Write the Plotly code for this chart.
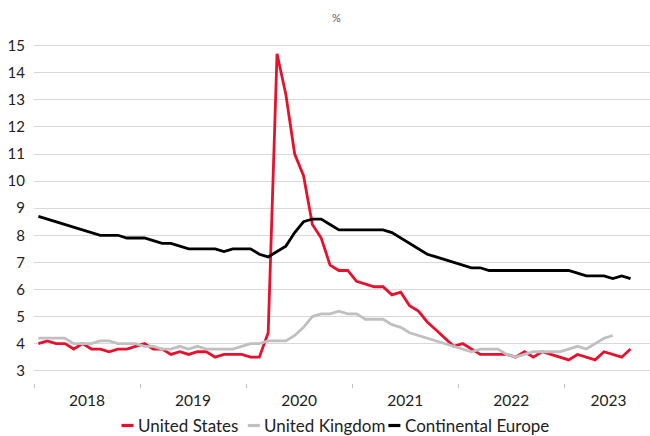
import plotly.graph_objects as go

# ---- data ----
years = ["2018", "2019", "2020", "2021", "2022", "2023"]
n_categories = 70  # monthly slots on the axis, Jan 2018 .. Oct 2023

united_states = [
    4.0, 4.1, 4.0, 4.0, 3.8, 4.0, 3.8, 3.8, 3.7, 3.8, 3.8, 3.9,
    4.0, 3.8, 3.8, 3.6, 3.7, 3.6, 3.7, 3.7, 3.5, 3.6, 3.6, 3.6,
    3.5, 3.5, 4.4, 14.7, 13.2, 11.0, 10.2, 8.4, 7.9, 6.9, 6.7, 6.7,
    6.3, 6.2, 6.1, 6.1, 5.8, 5.9, 5.4, 5.2, 4.8, 4.5, 4.2, 3.9,
    4.0, 3.8, 3.6, 3.6, 3.6, 3.6, 3.5, 3.7, 3.5, 3.7, 3.6, 3.5,
    3.4, 3.6, 3.5, 3.4, 3.7, 3.6, 3.5, 3.8,
]
united_kingdom = [
    4.2, 4.2, 4.2, 4.2, 4.0, 4.0, 4.0, 4.1, 4.1, 4.0, 4.0, 4.0,
    3.9, 3.9, 3.8, 3.8, 3.9, 3.8, 3.9, 3.8, 3.8, 3.8, 3.8, 3.9,
    4.0, 4.0, 4.1, 4.1, 4.1, 4.3, 4.6, 5.0, 5.1, 5.1, 5.2, 5.1,
    5.1, 4.9, 4.9, 4.9, 4.7, 4.6, 4.4, 4.3, 4.2, 4.1, 4.0, 3.9,
    3.8, 3.7, 3.8, 3.8, 3.8, 3.6, 3.5, 3.6, 3.7, 3.7, 3.7, 3.7,
    3.8, 3.9, 3.8, 4.0, 4.2, 4.3,
]
continental_europe = [
    8.7, 8.6, 8.5, 8.4, 8.3, 8.2, 8.1, 8.0, 8.0, 8.0, 7.9, 7.9,
    7.9, 7.8, 7.7, 7.7, 7.6, 7.5, 7.5, 7.5, 7.5, 7.4, 7.5, 7.5,
    7.5, 7.3, 7.2, 7.4, 7.6, 8.1, 8.5, 8.6, 8.6, 8.4, 8.2, 8.2,
    8.2, 8.2, 8.2, 8.2, 8.1, 7.9, 7.7, 7.5, 7.3, 7.2, 7.1, 7.0,
    6.9, 6.8, 6.8, 6.7, 6.7, 6.7, 6.7, 6.7, 6.7, 6.7, 6.7, 6.7,
    6.7, 6.6, 6.5, 6.5, 6.5, 6.4, 6.5, 6.4,
]
y_ticks = [3, 4, 5, 6, 7, 8, 9, 10, 11, 12, 13, 14, 15]

series_names = ["United States", "United Kingdom", "Continental Europe"]
series_values = [united_states, united_kingdom, continental_europe]
series_colors = ["#E8112D", "#C0C0C0", "#000000"]

# ---- layout geometry (pixels) ----
W, H = 650, 436
L, R, T, B = 34.3, 0, 38, 53
PX_PER_MONTH = 8.833
plot_w, plot_h = W - L - R, H - T - B

def px_to_paper_x(px):
    return (px - L) / plot_w

def px_to_paper_y(py):
    return (H - B - py) / plot_h

# ---- derived axis positions ----
year_starts = [12 * k - 0.5 for k in range(len(years))]
year_ends = [min(s + 12, n_categories - 0.5) for s in year_starts]
label_pos = [(s + e) / 2 for s, e in zip(year_starts, year_ends)]

FONT = "Lato"

fig = go.Figure()
for name, vals, col in zip(series_names, series_values, series_colors):
    fig.add_trace(go.Scatter(
        x=list(range(len(vals))), y=vals, name=name, mode="lines",
        line=dict(color=col, width=2.8), showlegend=False,
    ))

# legend drawn as short dashes + text below the axis, like the original
legend_dash_px = [121.7, 248.0, 388.5]   # left edge of each dash
legend_y = px_to_paper_y(425.5)
shapes = []
annotations = []
for name, col, x0 in zip(series_names, series_colors, legend_dash_px):
    shapes.append(dict(type="line", xref="paper", yref="paper",
                       x0=px_to_paper_x(x0), x1=px_to_paper_x(x0 + 12),
                       y0=legend_y, y1=legend_y,
                       line=dict(color=col, width=3.2)))
    annotations.append(dict(text=name, xref="paper", yref="paper",
                            x=px_to_paper_x(x0 + 14.5), y=legend_y,
                            xanchor="left", yanchor="middle", showarrow=False,
                            font=dict(family=FONT, size=17, color="#222222")))

annotations.append(dict(
    text="%", xref="paper", yref="paper", x=px_to_paper_x(337),
    y=px_to_paper_y(18), xanchor="center", yanchor="middle", showarrow=False,
    font=dict(family=FONT, size=11, color="#595959"),
))

fig.update_layout(
    width=W, height=H,
    margin=dict(l=L, r=R, t=T, b=B, autoexpand=False),
    paper_bgcolor="white", plot_bgcolor="white",
    font=dict(family=FONT, color="#222222"),
    showlegend=False,
    xaxis=dict(
        range=[-0.5, -0.5 + plot_w / PX_PER_MONTH],
        tickmode="array", tickvals=label_pos, ticktext=years,
        ticks="", showgrid=False, zeroline=False, showline=False,
        tickfont=dict(family=FONT, size=15.5, color="#222222"),
        ticklabelstandoff=6,
        minor=dict(tickmode="array", tickvals=year_starts, ticks="outside",
                   ticklen=4, tickwidth=1, tickcolor="#BFBFBF", showgrid=False),
    ),
    yaxis=dict(
        range=[2.546, 15.284],
        tickmode="array", tickvals=y_ticks,
        ticks="", showgrid=True, gridcolor="#D9D9D9", gridwidth=1.3,
        zeroline=False, showline=False,
        tickfont=dict(family=FONT, size=15, color="#222222"),
        ticklabelstandoff=8,
    ),
    shapes=shapes,
    annotations=annotations,
)

# remove the browser's default 8px body margin so the figure sits at the page origin
fig.write_html("out.html",
               config={"displayModeBar": False},
               post_script="document.body.style.margin='0';document.body.style.overflow='hidden';")
